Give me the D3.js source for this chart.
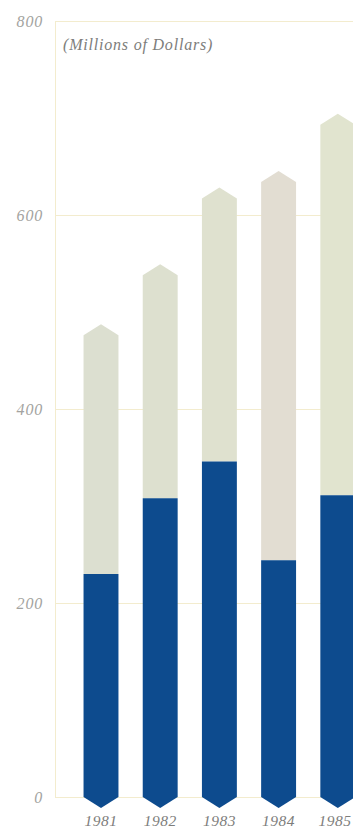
<!DOCTYPE html>
<html>
<head>
<meta charset="utf-8">
<script src="https://cdn.jsdelivr.net/npm/d3@7/dist/d3.min.js"></script>
<style>
  html, body { margin: 0; padding: 0; background: #ffffff; }
  svg { display: block; }
</style>
</head>
<body>
<svg id="chart" width="353" height="831"></svg>
<script>
// Yearly totals, split into the lower (blue) part and the remainder above it
const years = ["1981", "1982", "1983", "1984", "1985"];
const lowerValues = [230, 308, 346, 244, 311];
const totalValues = [476, 538, 617, 634, 693];
const yTicks = [0, 200, 400, 600, 800];
const unitsLabel = "(Millions of Dollars)";

const upperColors = ["#dcdfd0", "#dde0cf", "#dfe1cf", "#e2ddd2", "#e1e4cf"];
const lowerColor = "#0d4b8e";

const svg = d3.select("#chart");
const W = 353, H = 831;
const left = 55;
const serif = "'Liberation Serif', 'DejaVu Serif', serif";

const y = d3.scaleLinear().domain([0, 800]).range([797, 21]);
const x = d3.scaleBand()
  .domain(years)
  .range([71.4, 367.4])
  .paddingInner(0.41)
  .paddingOuter(0.205);

const tip = 11; // height of the pointed ends

// gridlines and value ticks
const yAxis = d3.axisLeft(y).tickValues(yTicks).tickSize(-(W - left)).tickFormat(d3.format("d")).tickPadding(12);
const gAxis = svg.append("g").attr("transform", `translate(${left},0)`).call(yAxis);
gAxis.select(".domain").attr("stroke", "#f3ecce").attr("stroke-width", 1);
gAxis.selectAll(".tick line").attr("stroke", "#f3ecce").attr("stroke-width", 1);
gAxis.selectAll(".tick text")
  .attr("fill", "#a3a3a0")
  .attr("font-family", serif)
  .attr("font-style", "italic")
  .attr("font-size", 16)
  .attr("letter-spacing", 0.8)
  .attr("dy", "0.32em");

// units label
svg.append("text")
  .attr("x", 63).attr("y", 50)
  .attr("fill", "#7d7d7b")
  .attr("font-family", serif)
  .attr("font-style", "italic")
  .attr("font-size", 16)
  .attr("letter-spacing", 0.8)
  .text(unitsLabel);

const rows = years.map((yr, i) => ({ year: yr, lower: lowerValues[i], total: totalValues[i], color: upperColors[i] }));

// upper part with pointed top
svg.append("g").selectAll("path.upper")
  .data(rows).join("path")
  .attr("class", "upper")
  .attr("fill", d => d.color)
  .attr("d", d => {
    const x0 = x(d.year), x1 = x0 + x.bandwidth(), xm = x0 + x.bandwidth() / 2;
    const yt = y(d.total), yb = y(d.lower);
    return `M${x0},${yb} L${x0},${yt} L${xm},${yt - tip} L${x1},${yt} L${x1},${yb} Z`;
  });

// lower part with pointed bottom below the baseline
svg.append("g").selectAll("path.lower")
  .data(rows).join("path")
  .attr("class", "lower")
  .attr("fill", lowerColor)
  .attr("d", d => {
    const x0 = x(d.year), x1 = x0 + x.bandwidth(), xm = x0 + x.bandwidth() / 2;
    const yt = y(d.lower), yb = y(0);
    return `M${x0},${yt} L${x1},${yt} L${x1},${yb} L${xm},${yb + tip} L${x0},${yb} Z`;
  });

// year labels, kept inside the right edge
svg.append("g").selectAll("text")
  .data(years).join("text")
  .attr("y", 826)
  .attr("text-anchor", "middle")
  .attr("fill", "#7d7d7b")
  .attr("font-family", serif)
  .attr("font-style", "italic")
  .attr("font-size", 15.5)
  .attr("letter-spacing", 0.5)
  .text(d => d)
  .attr("x", function (d) {
    const half = this.getComputedTextLength() / 2;
    return Math.min(x(d) + x.bandwidth() / 2, W - half - 1.5);
  });
</script>
</body>
</html>
